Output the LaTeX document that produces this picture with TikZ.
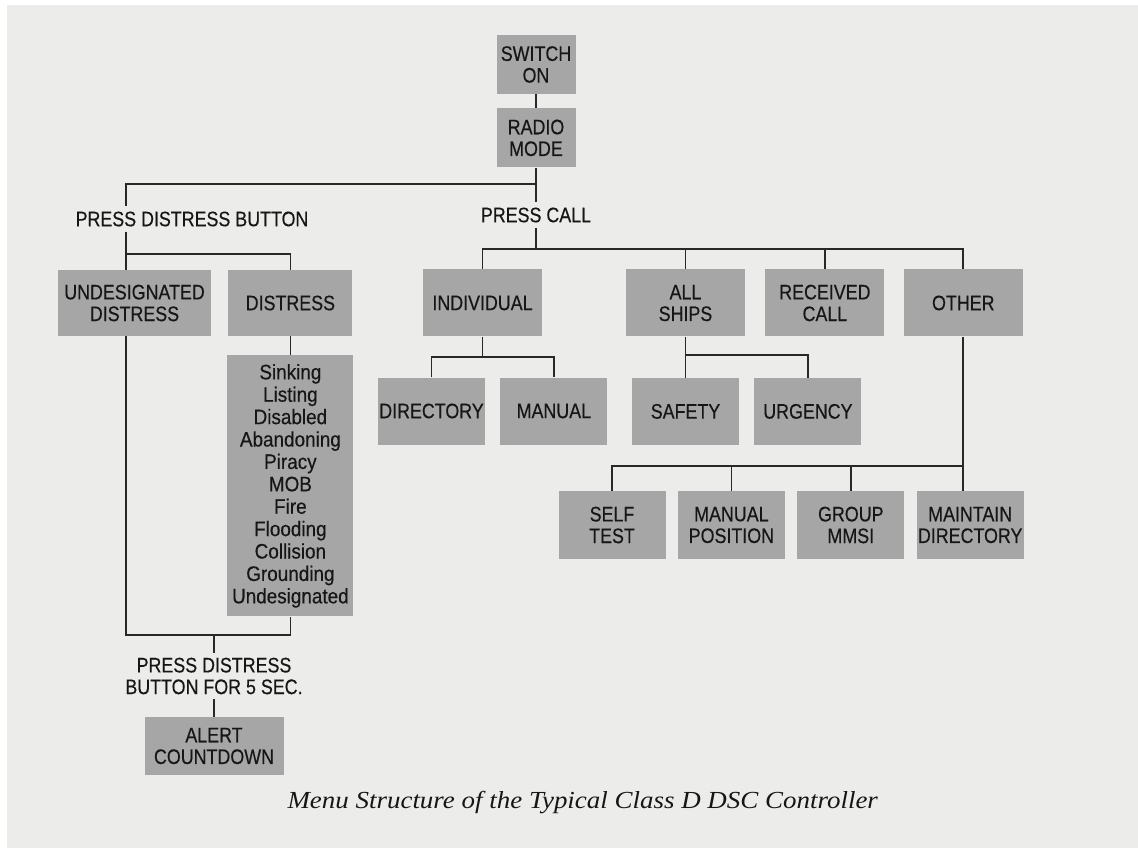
\documentclass[tikz,border=0pt]{standalone}
\usepackage{fontspec}
\setmainfont[FakeStretch=0.85, FakeBold=0.35]{Liberation Sans}
\newfontfamily\listfont[FakeStretch=0.9, FakeBold=0.35]{Liberation Sans}
\newfontfamily\capfont[FakeStretch=1.1]{Liberation Serif}
\usetikzlibrary{positioning}
\definecolor{paper}{RGB}{236,236,234}
\definecolor{boxgray}{RGB}{166,166,166}
\definecolor{ink}{RGB}{22,22,22}
\definecolor{wire}{RGB}{40,40,40}

\begin{document}
\begin{tikzpicture}[x=1pt, y=-1pt,
			menubox/.style={fill=boxgray, rectangle, minimum width=119pt, minimum height=67pt, inner sep=0pt, align=center, text=ink, font=\fontsize{21}{21.7}\selectfont},
			subbox/.style={menubox, minimum width=107pt},
			prompt/.style={inner xsep=0pt, inner ysep=5pt, align=center, text=ink, font=\fontsize{21}{21.7}\selectfont},
			link/.style={draw=wire, line width=1.8pt}
			]
			\useasboundingbox (0,0) rectangle (1138,850);
			\fill[white] (0,0) rectangle (1138,850);
			\fill[paper] (7,5) rectangle (1138,848);
			
			% Nodes
			\node[menubox, minimum width=79pt, minimum height=59pt] (switch_on) at (536,64.5) {SWITCH\\ON};
			\node[menubox, minimum width=79pt, minimum height=59pt, below=14pt of switch_on] (radio_mode) {RADIO\\MODE};
			\node[prompt] (press_distress) at (192,219) {PRESS DISTRESS BUTTON};
			\node[prompt] (press_call) at (536,215) {PRESS CALL};
			
			% Distress side
			\node[menubox, minimum width=153pt, minimum height=66pt] (undesignated) at (134.5,303) {UNDESIGNATED\\DISTRESS};
			\node[menubox, minimum width=124pt, minimum height=66pt, right=17pt of undesignated] (distress) {DISTRESS};
			\node[menubox, minimum width=126pt, minimum height=261pt, font=\listfont\fontsize{21}{22.4}\selectfont, below=19pt of distress] (distress_list) {Sinking\\Listing\\Disabled\\Abandoning\\Piracy\\MOB\\Fire\\Flooding\\Collision\\Grounding\\Undesignated};
			\node[prompt] (press_five) at (214,676) {PRESS DISTRESS\\BUTTON FOR 5 SEC.};
			\node[menubox, minimum width=139pt, minimum height=58pt] (alert) at (214,746) {ALERT\\COUNTDOWN};
			
			% Call side
			\node[menubox] (individual) at (482.5,303) {INDIVIDUAL};
			\node[menubox] (all_ships) at (685.5,303) {ALL\\SHIPS};
			\node[menubox, right=20pt of all_ships] (received_call) {RECEIVED\\CALL};
			\node[menubox, right=19pt of received_call] (other) {OTHER};
			\node[subbox] (directory) at (431.5,411) {DIRECTORY};
			\node[subbox, right=15pt of directory] (manual) {MANUAL};
			\node[subbox, below=41pt of all_ships] (safety) {SAFETY};
			\node[subbox, right=15pt of safety] (urgency) {URGENCY};
			\node[subbox, minimum height=68pt] (self_test) at (612,525) {SELF\\TEST};
			\node[subbox, minimum height=68pt, right=12pt of self_test] (manual_position) {MANUAL\\POSITION};
			\node[subbox, minimum height=68pt, right=12pt of manual_position] (group_mmsi) {GROUP\\MMSI};
			\node[subbox, minimum height=68pt, right=12pt of group_mmsi] (maintain_directory) {MAINTAIN\\DIRECTORY};
			
			\node[anchor=base west, text=ink, font=\capfont\itshape\fontsize{24.5}{28}\selectfont] (caption) at (284,808) {Menu Structure of the Typical Class D DSC Controller};
			
			% Junctions
			\coordinate (top_split) at (536,184);
			\coordinate (pd_top) at (126,184);
			\coordinate (pd_split) at (126,254);
			\coordinate (join_left) at (126,635);
			\coordinate (join_mid) at (214,635);
			\coordinate (call_split) at (536,249);
			\coordinate (ind_split) at (482.5,357);
			\coordinate (ship_split) at (685.5,355);
			\coordinate (other_split) at (962.5,466);
			
			% Lines
			\draw[link] (switch_on) -- (radio_mode);
			\draw[link] (radio_mode) -- (top_split) -- (press_call);
			\draw[link] (top_split) -- (pd_top) -- (pd_top |- press_distress.north);
			\draw[link] (pd_top |- press_distress.south) -- (pd_top |- undesignated.north);
			\draw[link] (pd_split) -| (distress.north);
			\draw[link] (distress) -- (distress_list);
			\draw[link] (pd_top |- undesignated.south) -- (join_left) -| (distress_list.south);
			\draw[link] (join_mid) -- (press_five);
			\draw[link] (press_five) -- (alert);
			\draw[link] (press_call) -- (call_split);
			\draw[link] (individual.north) |- (other.north |- call_split) -- (other.north);
			\draw[link] (all_ships.north) -- (all_ships.north |- call_split);
			\draw[link] (received_call.north) -- (received_call.north |- call_split);
			\draw[link] (individual) -- (ind_split);
			\draw[link] (directory.north) |- (ind_split) -| (manual.north);
			\draw[link] (all_ships) -- (safety);
			\draw[link] (ship_split) -| (urgency.north);
			\draw[link] (other.south) -- (other.south |- maintain_directory.north);
			\draw[link] (other_split) -| (self_test.north);
			\draw[link] (manual_position.north) -- (manual_position.north |- other_split);
			\draw[link] (group_mmsi.north) -- (group_mmsi.north |- other_split);
		\end{tikzpicture}
\end{document}
